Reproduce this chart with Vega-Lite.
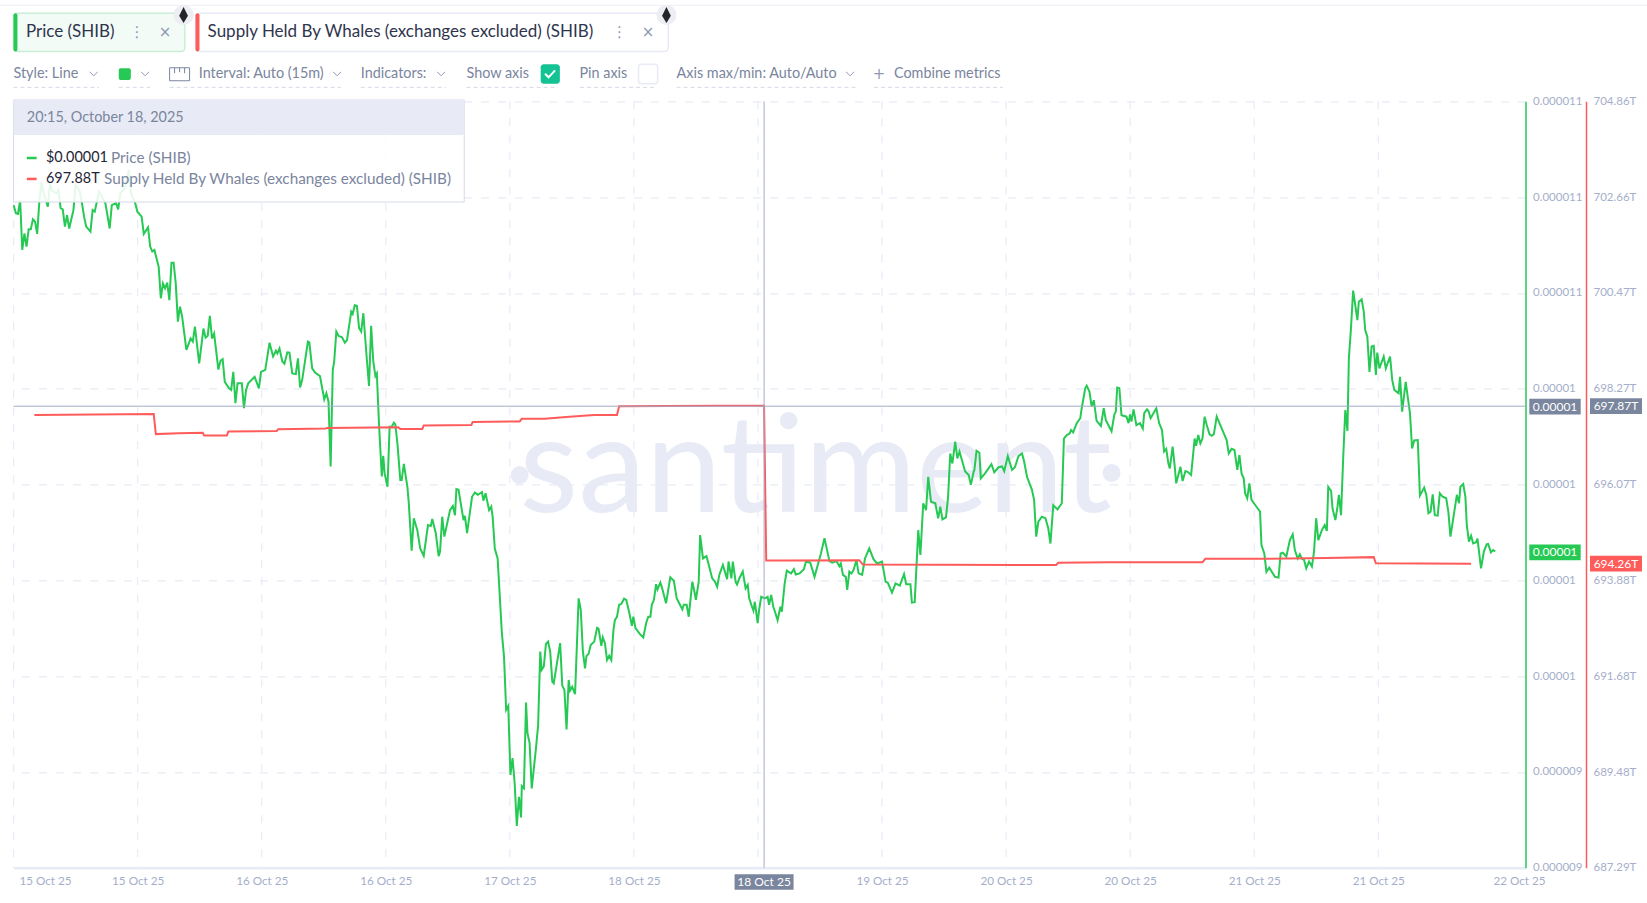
{
"$schema":"https://vega.github.io/schema/vega-lite/v6.json",
"autosize":{"type":"none"},
"width":1511.9,"height":766.4,
"padding":{"left":13.6,"top":101.3,"right":121.5,"bottom":35.3},
"background":"#ffffff",
"config":{"view":{"stroke":null},"font":"Lato","text":{"font":"Lato"}},
"datasets":{
"price":[
{"time":"2025-10-15T04:15","price":0.000010779},{"time":"2025-10-15T04:30","price":0.000010758},{"time":"2025-10-15T04:45","price":0.000010756},{"time":"2025-10-15T05:00","price":0.000010792},{"time":"2025-10-15T05:15","price":0.000010662},{"time":"2025-10-15T05:30","price":0.000010705},{"time":"2025-10-15T05:45","price":0.000010671},{"time":"2025-10-15T06:00","price":0.000010716},{"time":"2025-10-15T06:15","price":0.000010716},{"time":"2025-10-15T06:30","price":0.000010742},{"time":"2025-10-15T06:45","price":0.000010736},{"time":"2025-10-15T07:00","price":0.000010704},{"time":"2025-10-15T07:15","price":0.000010788},{"time":"2025-10-15T07:30","price":0.00001084},{"time":"2025-10-15T07:45","price":0.00001081},{"time":"2025-10-15T08:15","price":0.000010775},{"time":"2025-10-15T08:30","price":0.000010836},{"time":"2025-10-15T08:45","price":0.000010817},{"time":"2025-10-15T09:15","price":0.00001081},{"time":"2025-10-15T09:30","price":0.000010818},{"time":"2025-10-15T09:45","price":0.000010771},{"time":"2025-10-15T10:00","price":0.000010768},{"time":"2025-10-15T10:15","price":0.000010723},{"time":"2025-10-15T10:30","price":0.000010753},{"time":"2025-10-15T10:45","price":0.000010718},{"time":"2025-10-15T11:15","price":0.000010766},{"time":"2025-10-15T11:30","price":0.000010832},{"time":"2025-10-15T12:00","price":0.000010814},{"time":"2025-10-15T12:15","price":0.000010784},{"time":"2025-10-15T12:30","price":0.000010749},{"time":"2025-10-15T12:45","price":0.000010723},{"time":"2025-10-15T13:15","price":0.00001071},{"time":"2025-10-15T13:30","price":0.000010766},{"time":"2025-10-15T13:45","price":0.000010762},{"time":"2025-10-15T14:15","price":0.000010814},{"time":"2025-10-15T14:30","price":0.000010805},{"time":"2025-10-15T15:00","price":0.000010784},{"time":"2025-10-15T15:30","price":0.000010718},{"time":"2025-10-15T15:45","price":0.000010779},{"time":"2025-10-15T16:15","price":0.000010784},{"time":"2025-10-15T16:30","price":0.000010768},{"time":"2025-10-15T16:45","price":0.00001081},{"time":"2025-10-15T17:15","price":0.000010823},{"time":"2025-10-15T17:45","price":0.000010871},{"time":"2025-10-15T18:00","price":0.00001081},{"time":"2025-10-15T18:30","price":0.000010784},{"time":"2025-10-15T18:45","price":0.000010762},{"time":"2025-10-15T19:15","price":0.000010749},{"time":"2025-10-15T19:30","price":0.000010704},{"time":"2025-10-15T20:00","price":0.000010721},{"time":"2025-10-15T20:15","price":0.000010671},{"time":"2025-10-15T20:30","price":0.000010658},{"time":"2025-10-15T20:45","price":0.000010662},{"time":"2025-10-15T21:15","price":0.000010618},{"time":"2025-10-15T21:30","price":0.000010536},{"time":"2025-10-15T21:45","price":0.000010575},{"time":"2025-10-15T22:00","price":0.000010562},{"time":"2025-10-15T22:15","price":0.000010577},{"time":"2025-10-15T22:30","price":0.000010531},{"time":"2025-10-15T22:45","price":0.000010629},{"time":"2025-10-15T23:00","price":0.000010629},{"time":"2025-10-15T23:15","price":0.000010575},{"time":"2025-10-15T23:30","price":0.000010475},{"time":"2025-10-15T23:45","price":0.000010514},{"time":"2025-10-16T00:00","price":0.000010488},{"time":"2025-10-16T00:30","price":0.000010401},{"time":"2025-10-16T01:00","price":0.000010431},{"time":"2025-10-16T01:15","price":0.000010423},{"time":"2025-10-16T01:30","price":0.000010462},{"time":"2025-10-16T02:00","price":0.000010366},{"time":"2025-10-16T02:30","price":0.000010457},{"time":"2025-10-16T02:45","price":0.000010433},{"time":"2025-10-16T03:00","price":0.000010438},{"time":"2025-10-16T03:15","price":0.00001049},{"time":"2025-10-16T03:30","price":0.000010431},{"time":"2025-10-16T03:45","price":0.000010444},{"time":"2025-10-16T04:15","price":0.00001035},{"time":"2025-10-16T04:30","price":0.000010373},{"time":"2025-10-16T04:45","price":0.000010377},{"time":"2025-10-16T05:00","price":0.000010318},{"time":"2025-10-16T05:30","price":0.000010301},{"time":"2025-10-16T05:45","price":0.000010297},{"time":"2025-10-16T06:00","price":0.000010344},{"time":"2025-10-16T06:15","price":0.000010262},{"time":"2025-10-16T06:30","price":0.000010314},{"time":"2025-10-16T07:00","price":0.000010314},{"time":"2025-10-16T07:15","price":0.000010249},{"time":"2025-10-16T07:30","price":0.000010297},{"time":"2025-10-16T07:45","price":0.000010314},{"time":"2025-10-16T08:30","price":0.000010331},{"time":"2025-10-16T09:00","price":0.000010301},{"time":"2025-10-16T09:15","price":0.000010344},{"time":"2025-10-16T09:45","price":0.000010349},
{"time":"2025-10-16T10:15","price":0.00001042},{"time":"2025-10-16T10:40","price":0.000010384},{"time":"2025-10-16T11:00","price":0.000010399},{"time":"2025-10-16T11:10","price":0.000010392},{"time":"2025-10-16T11:25","price":0.000010405},{"time":"2025-10-16T11:45","price":0.000010371},{"time":"2025-10-16T12:00","price":0.000010365},{"time":"2025-10-16T12:20","price":0.000010395},{"time":"2025-10-16T12:35","price":0.000010394},{"time":"2025-10-16T12:55","price":0.00001034},{"time":"2025-10-16T13:20","price":0.000010338},{"time":"2025-10-16T13:35","price":0.000010379},{"time":"2025-10-16T13:50","price":0.000010303},{"time":"2025-10-16T14:05","price":0.000010323},{"time":"2025-10-16T14:45","price":0.000010423},{"time":"2025-10-16T14:55","price":0.000010421},{"time":"2025-10-16T15:15","price":0.000010353},{"time":"2025-10-16T15:35","price":0.000010342},{"time":"2025-10-16T16:10","price":0.000010333},{"time":"2025-10-16T16:40","price":0.000010272},{"time":"2025-10-16T16:55","price":0.000010288},{"time":"2025-10-16T17:10","price":0.000010266},{"time":"2025-10-16T17:25","price":0.000010097},{"time":"2025-10-16T17:40","price":0.000010349},{"time":"2025-10-16T17:50","price":0.000010371},{"time":"2025-10-16T18:05","price":0.000010449},{"time":"2025-10-16T18:20","price":0.000010438},{"time":"2025-10-16T18:45","price":0.000010434},{"time":"2025-10-16T19:05","price":0.00001042},{"time":"2025-10-16T19:20","price":0.000010427},{"time":"2025-10-16T19:50","price":0.000010501},{"time":"2025-10-16T20:00","price":0.000010495},{"time":"2025-10-16T20:15","price":0.000010518},{"time":"2025-10-16T20:30","price":0.000010516},{"time":"2025-10-16T20:45","price":0.000010458},{"time":"2025-10-16T21:00","price":0.000010449},{"time":"2025-10-16T21:15","price":0.000010497},{"time":"2025-10-16T21:40","price":0.000010375},{"time":"2025-10-16T21:55","price":0.000010307},{"time":"2025-10-16T22:10","price":0.000010464},{"time":"2025-10-16T22:25","price":0.000010371},{"time":"2025-10-16T22:40","price":0.000010333},{"time":"2025-10-16T22:50","price":0.00001034},{"time":"2025-10-16T23:05","price":0.00001021},{"time":"2025-10-16T23:25","price":0.000010071},{"time":"2025-10-16T23:35","price":0.000010125},{"time":"2025-10-16T23:45","price":0.000010079},{"time":"2025-10-17T00:05","price":0.000010044},{"time":"2025-10-17T00:20","price":0.000010201},{"time":"2025-10-17T00:35","price":0.000010201},{"time":"2025-10-17T00:50","price":0.000010211},{"time":"2025-10-17T01:00","price":0.000010207},{"time":"2025-10-17T01:15","price":0.000010157},{"time":"2025-10-17T01:35","price":0.000010062},{"time":"2025-10-17T01:45","price":0.000010062},{"time":"2025-10-17T02:00","price":0.000010104},{"time":"2025-10-17T02:25","price":0.000010044},{"time":"2025-10-17T02:35","price":0.000010001},{"time":"2025-10-17T02:55","price":0.000009877},{"time":"2025-10-17T03:10","price":0.000009962},{"time":"2025-10-17T03:35","price":0.000009931},{"time":"2025-10-17T03:55","price":0.000009883},{"time":"2025-10-17T04:20","price":0.000009864},{"time":"2025-10-17T04:50","price":0.000009944},{"time":"2025-10-17T05:10","price":0.000009942},{"time":"2025-10-17T05:20","price":0.00000996},{"time":"2025-10-17T05:45","price":0.000009923},{"time":"2025-10-17T06:05","price":0.000009863},{"time":"2025-10-17T06:15","price":0.000009875},{"time":"2025-10-17T06:30","price":0.000009966},{"time":"2025-10-17T06:45","price":0.000009914},{"time":"2025-10-17T07:25","price":0.000009983},{"time":"2025-10-17T07:45","price":0.000009994},{"time":"2025-10-17T08:00","price":0.00000997},{"time":"2025-10-17T08:10","price":0.000010038},{"time":"2025-10-17T08:25","price":0.000010036},{"time":"2025-10-17T09:00","price":0.000009957},{"time":"2025-10-17T09:10","price":0.000009968},{"time":"2025-10-17T09:25","price":0.000009923},{"time":"2025-10-17T10:00","price":0.000010018},{"time":"2025-10-17T10:20","price":0.000010029},{"time":"2025-10-17T10:40","price":0.000010023},{"time":"2025-10-17T11:10","price":0.00001003},{"time":"2025-10-17T11:20","price":0.000010008},{"time":"2025-10-17T11:35","price":0.000010027},{"time":"2025-10-17T12:00","price":0.000009983},{"time":"2025-10-17T12:15","price":0.000009992},{"time":"2025-10-17T12:25","price":0.000009966},{"time":"2025-10-17T12:40","price":0.000009883},
{"time":"2025-10-17T13:00","price":0.000009857},{"time":"2025-10-17T13:30","price":0.000009662},{"time":"2025-10-17T13:45","price":0.000009601},{"time":"2025-10-17T14:00","price":0.000009462},{"time":"2025-10-17T14:15","price":0.000009472},{"time":"2025-10-17T14:30","price":0.000009292},{"time":"2025-10-17T14:45","price":0.000009336},{"time":"2025-10-17T15:00","price":0.00000927},{"time":"2025-10-17T15:15","price":0.000009159},{"time":"2025-10-17T15:30","price":0.000009235},{"time":"2025-10-17T15:45","price":0.000009181},{"time":"2025-10-17T15:50","price":0.000009263},{"time":"2025-10-17T16:05","price":0.000009257},{"time":"2025-10-17T16:20","price":0.000009481},{"time":"2025-10-17T16:30","price":0.000009401},{"time":"2025-10-17T16:45","price":0.000009375},{"time":"2025-10-17T17:00","price":0.000009257},{"time":"2025-10-17T17:30","price":0.000009362},{"time":"2025-10-17T17:45","price":0.000009422},{"time":"2025-10-17T18:00","price":0.000009614},{"time":"2025-10-17T18:10","price":0.000009566},{"time":"2025-10-17T18:25","price":0.000009575},{"time":"2025-10-17T18:40","price":0.000009634},{"time":"2025-10-17T18:55","price":0.00000964},{"time":"2025-10-17T19:10","price":0.000009614},{"time":"2025-10-17T19:25","price":0.000009535},{"time":"2025-10-17T19:35","price":0.000009531},{"time":"2025-10-17T20:20","price":0.000009636},{"time":"2025-10-17T20:35","price":0.000009525},{"time":"2025-10-17T20:50","price":0.000009514},{"time":"2025-10-17T21:05","price":0.000009411},{"time":"2025-10-17T21:20","price":0.00000954},{"time":"2025-10-17T21:30","price":0.000009512},{"time":"2025-10-17T21:45","price":0.000009522},{"time":"2025-10-17T22:05","price":0.000009503},{"time":"2025-10-17T22:30","price":0.000009753},{"time":"2025-10-17T22:45","price":0.000009723},{"time":"2025-10-17T23:00","price":0.000009614},{"time":"2025-10-17T23:15","price":0.00000957},{"time":"2025-10-17T23:25","price":0.000009602},{"time":"2025-10-17T23:40","price":0.000009608},{"time":"2025-10-17T23:55","price":0.000009631},{"time":"2025-10-18T00:20","price":0.00000964},{"time":"2025-10-18T00:40","price":0.000009676},{"time":"2025-10-18T00:50","price":0.000009674},{"time":"2025-10-18T01:10","price":0.000009629},{"time":"2025-10-18T01:20","price":0.000009651},{"time":"2025-10-18T01:35","price":0.000009636},{"time":"2025-10-18T01:50","price":0.000009592},{"time":"2025-10-18T02:05","price":0.000009603},{"time":"2025-10-18T02:20","price":0.000009592},{"time":"2025-10-18T02:35","price":0.00000967},{"time":"2025-10-18T02:45","price":0.000009696},{"time":"2025-10-18T03:00","price":0.000009705},{"time":"2025-10-18T03:15","price":0.000009736},{"time":"2025-10-18T03:30","price":0.000009738},{"time":"2025-10-18T03:50","price":0.000009752},{"time":"2025-10-18T04:05","price":0.000009749},{"time":"2025-10-18T04:25","price":0.000009718},{"time":"2025-10-18T04:45","price":0.000009681},{"time":"2025-10-18T04:55","price":0.000009705},{"time":"2025-10-18T05:10","price":0.000009675},{"time":"2025-10-18T05:40","price":0.00000966},{"time":"2025-10-18T06:05","price":0.000009651},{"time":"2025-10-18T06:25","price":0.000009688},{"time":"2025-10-18T06:40","price":0.000009705},{"time":"2025-10-18T06:55","price":0.000009705},{"time":"2025-10-18T07:05","price":0.000009736},{"time":"2025-10-18T07:20","price":0.000009749},{"time":"2025-10-18T07:35","price":0.00000979},{"time":"2025-10-18T07:45","price":0.000009776},{"time":"2025-10-18T08:05","price":0.000009794},{"time":"2025-10-18T08:15","price":0.000009783},{"time":"2025-10-18T08:45","price":0.00000974},{"time":"2025-10-18T09:15","price":0.000009808},{"time":"2025-10-18T09:40","price":0.000009799},{"time":"2025-10-18T10:00","price":0.000009753},{"time":"2025-10-18T10:15","price":0.000009742},{"time":"2025-10-18T10:40","price":0.000009724},{"time":"2025-10-18T10:50","price":0.000009736},{"time":"2025-10-18T11:10","price":0.000009736},{"time":"2025-10-18T11:25","price":0.000009705},{"time":"2025-10-18T11:50","price":0.000009796},{"time":"2025-10-18T12:05","price":0.00000977},{"time":"2025-10-18T12:15","price":0.000009749},{"time":"2025-10-18T12:35","price":0.000009796},{"time":"2025-10-18T12:45","price":0.000009918},{"time":"2025-10-18T13:05","price":0.000009857},{"time":"2025-10-18T13:30","price":0.000009863},{"time":"2025-10-18T13:55","price":0.000009827},{"time":"2025-10-18T14:10","price":0.000009805},{"time":"2025-10-18T14:30","price":0.000009796},{"time":"2025-10-18T14:45","price":0.000009783},{"time":"2025-10-18T15:00","price":0.000009814},{"time":"2025-10-18T15:25","price":0.00000984},{"time":"2025-10-18T15:55","price":0.000009803},{"time":"2025-10-18T16:05","price":0.000009849},{"time":"2025-10-18T16:25","price":0.000009805},{"time":"2025-10-18T16:35","price":0.000009849},{"time":"2025-10-18T16:55","price":0.000009796},{"time":"2025-10-18T17:05","price":0.000009789},{"time":"2025-10-18T17:20","price":0.000009804},{"time":"2025-10-18T17:45","price":0.000009823},{"time":"2025-10-18T18:05","price":0.000009779},{"time":"2025-10-18T18:20","price":0.000009788},{"time":"2025-10-18T18:30","price":0.000009753},{"time":"2025-10-18T18:50","price":0.000009731},{"time":"2025-10-18T19:00","price":0.000009721},{"time":"2025-10-18T19:10","price":0.000009744},{"time":"2025-10-18T19:30","price":0.000009688},{"time":"2025-10-18T19:40","price":0.000009723},
{"time":"2025-10-18T19:55","price":0.000009757},{"time":"2025-10-18T20:20","price":0.000009753},{"time":"2025-10-18T20:40","price":0.000009757},{"time":"2025-10-18T20:50","price":0.000009736},{"time":"2025-10-18T21:05","price":0.000009762},{"time":"2025-10-18T21:20","price":0.000009731},{"time":"2025-10-18T21:35","price":0.000009714},{"time":"2025-10-18T21:50","price":0.000009696},{"time":"2025-10-18T22:10","price":0.000009731},{"time":"2025-10-18T22:20","price":0.000009718},{"time":"2025-10-18T22:40","price":0.000009792},{"time":"2025-10-18T22:55","price":0.000009825},{"time":"2025-10-18T23:25","price":0.000009818},{"time":"2025-10-18T23:45","price":0.000009829},{"time":"2025-10-18T23:58","price":0.000009815},{"time":"2025-10-19T00:25","price":0.000009818},{"time":"2025-10-19T00:55","price":0.000009829},{"time":"2025-10-19T01:10","price":0.000009849},{"time":"2025-10-19T01:40","price":0.000009846},{"time":"2025-10-19T02:10","price":0.000009809},{"time":"2025-10-19T02:55","price":0.00000987},{"time":"2025-10-19T03:20","price":0.00000991},{"time":"2025-10-19T03:55","price":0.00000985},{"time":"2025-10-19T04:15","price":0.000009846},{"time":"2025-10-19T04:45","price":0.00000985},{"time":"2025-10-19T05:05","price":0.000009837},{"time":"2025-10-19T05:15","price":0.000009844},{"time":"2025-10-19T05:30","price":0.000009814},{"time":"2025-10-19T05:50","price":0.000009809},{"time":"2025-10-19T06:00","price":0.000009775},{"time":"2025-10-19T06:15","price":0.000009823},{"time":"2025-10-19T06:30","price":0.000009818},{"time":"2025-10-19T06:45","price":0.000009827},{"time":"2025-10-19T07:05","price":0.000009853},{"time":"2025-10-19T07:20","price":0.000009818},{"time":"2025-10-19T07:45","price":0.000009814},{"time":"2025-10-19T08:05","price":0.000009857},{"time":"2025-10-19T08:35","price":0.000009883},{"time":"2025-10-19T09:05","price":0.000009855},{"time":"2025-10-19T09:30","price":0.000009844},{"time":"2025-10-19T10:05","price":0.000009849},{"time":"2025-10-19T10:30","price":0.000009796},{"time":"2025-10-19T10:45","price":0.000009794},{"time":"2025-10-19T11:15","price":0.000009768},{"time":"2025-10-19T11:40","price":0.000009792},{"time":"2025-10-19T12:10","price":0.000009786},{"time":"2025-10-19T12:40","price":0.000009816},{"time":"2025-10-19T12:55","price":0.00000979},{"time":"2025-10-19T13:25","price":0.00000979},{"time":"2025-10-19T13:35","price":0.000009742},{"time":"2025-10-19T13:55","price":0.000009743},{"time":"2025-10-19T14:20","price":0.000009931},{"time":"2025-10-19T14:35","price":0.000009866},{"time":"2025-10-19T14:55","price":0.000010001},{"time":"2025-10-19T15:15","price":0.000009983},{"time":"2025-10-19T15:30","price":0.00001007},{"time":"2025-10-19T15:50","price":0.000010005},{"time":"2025-10-19T16:20","price":0.000010001},{"time":"2025-10-19T16:40","price":0.000009962},{"time":"2025-10-19T16:55","price":0.000009992},{"time":"2025-10-19T17:10","price":0.000009959},{"time":"2025-10-19T17:35","price":0.000009964},{"time":"2025-10-19T17:50","price":0.000010018},{"time":"2025-10-19T18:05","price":0.000010131},{"time":"2025-10-19T18:20","price":0.000010105},{"time":"2025-10-19T18:40","price":0.000010162},{"time":"2025-10-19T18:55","price":0.000010118},{"time":"2025-10-19T19:10","price":0.000010136},{"time":"2025-10-19T19:50","price":0.000010084},{"time":"2025-10-19T20:15","price":0.000010075},{"time":"2025-10-19T20:30","price":0.000010049},{"time":"2025-10-19T20:50","price":0.000010084},{"time":"2025-10-19T20:55","price":0.000010088},{"time":"2025-10-19T21:10","price":0.000010138},{"time":"2025-10-19T21:30","price":0.000010133},{"time":"2025-10-19T21:40","price":0.000010066},{"time":"2025-10-19T22:10","price":0.000010079},{"time":"2025-10-19T22:55","price":0.000010103},{"time":"2025-10-19T23:15","price":0.000010082},{"time":"2025-10-19T23:45","price":0.000010095},{"time":"2025-10-20T00:10","price":0.000010097},{"time":"2025-10-20T00:25","price":0.000010085},{"time":"2025-10-20T00:50","price":0.000010124},{"time":"2025-10-20T01:20","price":0.000010088},{"time":"2025-10-20T01:40","price":0.000010095},{"time":"2025-10-20T02:05","price":0.000010124},{"time":"2025-10-20T02:30","price":0.000010131},{"time":"2025-10-20T02:45","price":0.00001011},{"time":"2025-10-20T03:05","price":0.00001007},{"time":"2025-10-20T03:40","price":0.000010036},
{"time":"2025-10-20T03:55","price":0.00001001},{"time":"2025-10-20T04:10","price":0.000009914},{"time":"2025-10-20T04:25","price":0.000009953},{"time":"2025-10-20T04:50","price":0.000009966},{"time":"2025-10-20T05:15","price":0.000009962},{"time":"2025-10-20T05:35","price":0.000009935},{"time":"2025-10-20T05:50","price":0.000009896},{"time":"2025-10-20T06:10","price":0.000009996},{"time":"2025-10-20T06:40","price":0.000009985},{"time":"2025-10-20T07:10","price":0.000010001},{"time":"2025-10-20T07:25","price":0.00001017},{"time":"2025-10-20T07:45","price":0.000010179},{"time":"2025-10-20T08:05","price":0.000010183},{"time":"2025-10-20T08:15","price":0.000010192},{"time":"2025-10-20T08:30","price":0.000010186},{"time":"2025-10-20T08:55","price":0.00001021},{"time":"2025-10-20T09:20","price":0.000010223},{"time":"2025-10-20T09:30","price":0.000010249},{"time":"2025-10-20T09:55","price":0.000010301},{"time":"2025-10-20T10:05","price":0.000010308},{"time":"2025-10-20T10:25","price":0.000010292},{"time":"2025-10-20T10:40","price":0.000010253},{"time":"2025-10-20T10:55","price":0.00001027},{"time":"2025-10-20T11:15","price":0.000010216},{"time":"2025-10-20T11:45","price":0.000010203},{"time":"2025-10-20T12:05","price":0.000010249},{"time":"2025-10-20T12:20","price":0.000010218},{"time":"2025-10-20T13:00","price":0.000010189},{"time":"2025-10-20T13:20","price":0.000010233},{"time":"2025-10-20T13:30","price":0.00001024},{"time":"2025-10-20T13:40","price":0.000010303},{"time":"2025-10-20T13:55","price":0.000010301},{"time":"2025-10-20T14:10","price":0.000010231},{"time":"2025-10-20T14:45","price":0.000010227},{"time":"2025-10-20T15:00","price":0.00001021},{"time":"2025-10-20T15:10","price":0.000010233},{"time":"2025-10-20T15:20","price":0.000010214},{"time":"2025-10-20T15:35","price":0.000010246},{"time":"2025-10-20T15:55","price":0.000010205},{"time":"2025-10-20T16:20","price":0.00001021},{"time":"2025-10-20T16:40","price":0.000010196},{"time":"2025-10-20T16:50","price":0.000010236},{"time":"2025-10-20T17:10","price":0.000010246},{"time":"2025-10-20T17:20","price":0.000010242},{"time":"2025-10-20T17:35","price":0.000010223},{"time":"2025-10-20T18:15","price":0.000010249},{"time":"2025-10-20T18:35","price":0.00001021},{"time":"2025-10-20T18:55","price":0.000010192},{"time":"2025-10-20T19:10","price":0.000010136},{"time":"2025-10-20T19:25","price":0.000010143},{"time":"2025-10-20T19:40","price":0.000010105},{"time":"2025-10-20T19:50","price":0.000010092},{"time":"2025-10-20T20:10","price":0.000010149},{"time":"2025-10-20T20:25","price":0.000010096},{"time":"2025-10-20T20:35","price":0.000010053},{"time":"2025-10-20T21:05","price":0.000010096},{"time":"2025-10-20T21:20","price":0.000010059},{"time":"2025-10-20T21:40","price":0.000010085},{"time":"2025-10-20T21:55","price":0.000010083},{"time":"2025-10-20T22:20","price":0.000010075},{"time":"2025-10-20T22:45","price":0.00001017},{"time":"2025-10-20T22:55","price":0.000010151},{"time":"2025-10-20T23:10","price":0.000010179},{"time":"2025-10-20T23:25","price":0.000010157},{"time":"2025-10-20T23:40","price":0.00001017},{"time":"2025-10-20T23:55","price":0.000010227},{"time":"2025-10-21T00:10","price":0.000010205},{"time":"2025-10-21T00:30","price":0.000010181},{"time":"2025-10-21T00:45","price":0.000010177},{"time":"2025-10-21T01:00","price":0.000010181},{"time":"2025-10-21T01:20","price":0.000010227},{"time":"2025-10-21T01:50","price":0.000010201},{"time":"2025-10-21T02:30","price":0.000010166},{"time":"2025-10-21T02:45","price":0.000010131},{"time":"2025-10-21T03:05","price":0.000010143},{"time":"2025-10-21T03:25","price":0.00001014},{"time":"2025-10-21T03:45","price":0.000010088},{"time":"2025-10-21T04:00","price":0.000010127},{"time":"2025-10-21T04:15","price":0.000010079},{"time":"2025-10-21T04:30","price":0.000010066},{"time":"2025-10-21T04:40","price":0.000010027},{"time":"2025-10-21T04:55","price":0.000010014},{"time":"2025-10-21T05:10","price":0.000010053},{"time":"2025-10-21T05:25","price":0.00001001},{"time":"2025-10-21T06:00","price":0.000009992},{"time":"2025-10-21T06:25","price":0.000009979},{"time":"2025-10-21T06:35","price":0.000009892},{"time":"2025-10-21T06:55","price":0.00000987},{"time":"2025-10-21T07:10","price":0.000009822},{"time":"2025-10-21T07:30","price":0.000009833},{"time":"2025-10-21T08:10","price":0.000009809},{"time":"2025-10-21T08:35","price":0.000009807},{"time":"2025-10-21T08:50","price":0.00000987},{"time":"2025-10-21T09:05","price":0.000009872},{"time":"2025-10-21T09:30","price":0.000009862},{"time":"2025-10-21T09:55","price":0.000009905},
{"time":"2025-10-21T10:15","price":0.00000992},{"time":"2025-10-21T10:30","price":0.000009879},{"time":"2025-10-21T10:50","price":0.000009857},{"time":"2025-10-21T11:05","price":0.000009868},{"time":"2025-10-21T11:20","price":0.000009856},{"time":"2025-10-21T11:35","price":0.000009853},{"time":"2025-10-21T11:50","price":0.000009831},{"time":"2025-10-21T12:10","price":0.000009849},{"time":"2025-10-21T12:30","price":0.000009836},{"time":"2025-10-21T12:45","price":0.000009875},{"time":"2025-10-21T13:00","price":0.000009962},{"time":"2025-10-21T13:15","price":0.000009905},{"time":"2025-10-21T13:40","price":0.000009931},{"time":"2025-10-21T14:00","price":0.000009944},{"time":"2025-10-21T14:15","price":0.000009929},{"time":"2025-10-21T14:25","price":0.000010044},{"time":"2025-10-21T14:45","price":0.000010033},{"time":"2025-10-21T14:55","price":0.000009988},{"time":"2025-10-21T15:15","price":0.000009957},{"time":"2025-10-21T15:30","price":0.000009992},{"time":"2025-10-21T15:40","price":0.000010023},{"time":"2025-10-21T15:55","price":0.00000997},{"time":"2025-10-21T16:10","price":0.000010118},{"time":"2025-10-21T16:25","price":0.000010244},{"time":"2025-10-21T16:40","price":0.00001019},{"time":"2025-10-21T16:50","price":0.000010379},{"time":"2025-10-21T17:05","price":0.000010458},{"time":"2025-10-21T17:20","price":0.000010556},{"time":"2025-10-21T17:35","price":0.000010518},{"time":"2025-10-21T17:50","price":0.000010479},{"time":"2025-10-21T18:00","price":0.000010527},{"time":"2025-10-21T18:20","price":0.000010533},{"time":"2025-10-21T18:35","price":0.000010501},{"time":"2025-10-21T18:45","price":0.000010453},{"time":"2025-10-21T19:00","price":0.000010436},{"time":"2025-10-21T19:15","price":0.000010344},{"time":"2025-10-21T19:30","price":0.00001041},{"time":"2025-10-21T19:45","price":0.000010412},{"time":"2025-10-21T20:00","price":0.000010336},{"time":"2025-10-21T20:10","price":0.000010394},{"time":"2025-10-21T20:25","price":0.000010353},{"time":"2025-10-21T20:55","price":0.000010384},{"time":"2025-10-21T21:10","price":0.000010353},{"time":"2025-10-21T21:40","price":0.000010384},{"time":"2025-10-21T21:55","price":0.000010323},{"time":"2025-10-21T22:10","price":0.000010297},{"time":"2025-10-21T22:40","price":0.000010288},{"time":"2025-10-21T22:50","price":0.000010331},{"time":"2025-10-21T23:05","price":0.00001024},{"time":"2025-10-21T23:30","price":0.000010318},{"time":"2025-10-22T00:00","price":0.000010236},{"time":"2025-10-22T00:15","price":0.000010144},{"time":"2025-10-22T00:30","price":0.000010165},{"time":"2025-10-22T00:55","price":0.000010166},{"time":"2025-10-22T01:10","price":0.000010021},{"time":"2025-10-22T01:40","price":0.000010042},{"time":"2025-10-22T01:55","price":0.000010023},{"time":"2025-10-22T02:10","price":0.000009975},{"time":"2025-10-22T02:25","price":0.000009979},{"time":"2025-10-22T02:40","price":0.000010024},{"time":"2025-10-22T02:55","price":0.00000997},{"time":"2025-10-22T03:15","price":0.000009969},{"time":"2025-10-22T03:30","price":0.000010027},{"time":"2025-10-22T03:50","price":0.000010018},{"time":"2025-10-22T04:15","price":0.000010014},{"time":"2025-10-22T04:30","price":0.000009979},{"time":"2025-10-22T04:45","price":0.000009914},{"time":"2025-10-22T05:30","price":0.000010023},{"time":"2025-10-22T05:45","price":0.000010001},{"time":"2025-10-22T05:55","price":0.000010044},{"time":"2025-10-22T06:15","price":0.000010051},{"time":"2025-10-22T06:30","price":0.000010018},{"time":"2025-10-22T06:40","price":0.000009944},{"time":"2025-10-22T06:55","price":0.000009901},{"time":"2025-10-22T07:10","price":0.000009916},{"time":"2025-10-22T07:25","price":0.000009896},{"time":"2025-10-22T07:45","price":0.000009899},{"time":"2025-10-22T07:55","price":0.000009909},{"time":"2025-10-22T08:20","price":0.000009831},{"time":"2025-10-22T08:40","price":0.000009875},{"time":"2025-10-22T09:00","price":0.000009894},{"time":"2025-10-22T09:10","price":0.000009895},{"time":"2025-10-22T09:30","price":0.000009873},{"time":"2025-10-22T09:45","price":0.000009879},{"time":"2025-10-22T10:00","price":0.000009875}
],
"supply":[
{"time":"2025-10-15T06:40","supply":697.67},{"time":"2025-10-15T20:40","supply":697.69},{"time":"2025-10-15T20:55","supply":697.23},{"time":"2025-10-15T23:35","supply":697.25},{"time":"2025-10-16T02:25","supply":697.26},{"time":"2025-10-16T02:35","supply":697.2},{"time":"2025-10-16T05:15","supply":697.2},{"time":"2025-10-16T05:25","supply":697.29},{"time":"2025-10-16T11:05","supply":697.3},{"time":"2025-10-16T11:15","supply":697.34},{"time":"2025-10-16T16:50","supply":697.36},{"time":"2025-10-16T17:00","supply":697.37},{"time":"2025-10-17T01:20","supply":697.39},{"time":"2025-10-17T01:35","supply":697.35},{"time":"2025-10-17T04:10","supply":697.35},{"time":"2025-10-17T04:20","supply":697.43},{"time":"2025-10-17T09:55","supply":697.44},{"time":"2025-10-17T10:05","supply":697.51},{"time":"2025-10-17T15:35","supply":697.52},{"time":"2025-10-17T15:50","supply":697.58},{"time":"2025-10-17T18:30","supply":697.58},{"time":"2025-10-17T21:25","supply":697.63},{"time":"2025-10-18T00:20","supply":697.67},{"time":"2025-10-18T03:00","supply":697.67},{"time":"2025-10-18T03:15","supply":697.87},{"time":"2025-10-18T14:25","supply":697.88},{"time":"2025-10-18T20:15","supply":697.88},{"time":"2025-10-18T20:30","supply":694.33},{"time":"2025-10-18T23:10","supply":694.33},{"time":"2025-10-19T07:25","supply":694.34},{"time":"2025-10-19T07:50","supply":694.24},{"time":"2025-10-20T04:05","supply":694.23},{"time":"2025-10-20T06:30","supply":694.23},{"time":"2025-10-20T06:45","supply":694.28},{"time":"2025-10-20T12:35","supply":694.29},{"time":"2025-10-20T23:40","supply":694.29},{"time":"2025-10-21T00:00","supply":694.37},{"time":"2025-10-21T07:05","supply":694.37},{"time":"2025-10-21T14:15","supply":694.39},{"time":"2025-10-21T19:45","supply":694.41},{"time":"2025-10-21T20:00","supply":694.27},{"time":"2025-10-22T07:10","supply":694.26}
],
"gridTimes":[
{"time":"2025-10-15T04:14"},{"time":"2025-10-15T18:47"},{"time":"2025-10-16T09:20"},{"time":"2025-10-16T23:53"},{"time":"2025-10-17T14:26"},{"time":"2025-10-18T04:59"},{"time":"2025-10-18T19:32"},{"time":"2025-10-19T10:05"},{"time":"2025-10-20T00:38"},{"time":"2025-10-20T15:11"},{"time":"2025-10-21T05:44"},{"time":"2025-10-21T20:17"}
]
},
"resolve":{"scale":{"y":"independent"},"axis":{"y":"independent"}},
"layer":[
{
"encoding":{"y":{"field":"level","type":"quantitative","axis":null,"scale":{"domain":[687.29,704.86],"nice":false,"zero":false}}},
"layer":[
{"data":{"values":[{"time":"2025-10-19T02:17","level":695.45,"label":"santiment"}]},
 "mark":{"type":"text","font":"Lato","fontSize":136,"color":"#e8ebf5","baseline":"alphabetic","align":"center"},
 "encoding":{"x":{"field":"time","type":"temporal","title":null,"scale":{"domain":["2025-10-15T04:14","2025-10-22T13:33"]}},"text":{"field":"label"}}},
{"data":{"values":[{"time":"2025-10-17T15:35","level":696.29},{"time":"2025-10-20T13:00","level":696.34}]},
 "mark":{"type":"point","shape":"circle","filled":true,"size":324,"color":"#e8ebf5","opacity":1},
 "encoding":{"x":{"field":"time","type":"temporal"}}},
{"data":{"name":"gridTimes"},
 "mark":{"type":"rule","color":"#e9ebf6","strokeWidth":1.2,"strokeDash":[8,9]},
 "encoding":{"y":null,"x":{"field":"time","type":"temporal","axis":{"title":null,"values":["2025-10-15T07:55","2025-10-15T18:47","2025-10-16T09:20","2025-10-16T23:53","2025-10-17T14:26","2025-10-18T04:59","2025-10-19T10:05","2025-10-20T00:38","2025-10-20T15:11","2025-10-21T05:44","2025-10-21T20:17","2025-10-22T12:47"],"format":"%-d %b %y","labelFont":"Lato","labelFontSize":11.7,"labelColor":"#a5aecb","labelOverlap":false,"labelFlush":false,"labelPadding":8,"ticks":false,"grid":false,"domainColor":"#e8ebf5","domainWidth":2.5}}}}
]},
{
"encoding":{"y":{"field":"price","type":"quantitative","scale":{"domain":[0.00000905,0.00001105],"nice":false,"zero":false}}},
"layer":[
{"data":{"name":"price"},
 "mark":{"type":"line","color":"#26c953","strokeWidth":2,"interpolate":"linear"},
 "encoding":{"x":{"field":"time","type":"temporal"},"y":{"field":"price","type":"quantitative","axis":{"title":null,"orient":"right","values":[0.00001105,0.0000108,0.00001055,0.0000103,0.00001005,0.0000098,0.00000955,0.0000093,0.00000905],"format":".6~f","labelFont":"Lato","labelFontSize":11.5,"labelColor":"#a5aecb","labelPadding":7,"ticks":false,"domainColor":"#26c953","domainWidth":1.5,"grid":true,"gridColor":"#e9ebf6","gridWidth":1.2,"gridDash":[8,9]}}}},
{"data":{"values":[{"time":"2025-10-22T13:33","price":0.000010253}]},
 "mark":{"type":"rect","color":"#7a859e","width":51.4,"height":15.7,"xOffset":29.5},
 "encoding":{"x":{"field":"time","type":"temporal"}}},
{"data":{"values":[{"time":"2025-10-22T13:33","price":0.000009873}]},
 "mark":{"type":"rect","color":"#26c953","width":51.4,"height":15.7,"xOffset":29.5},
 "encoding":{"x":{"field":"time","type":"temporal"}}},
{"data":{"values":[{"time":"2025-10-22T13:33","price":0.000010253},{"time":"2025-10-22T13:33","price":0.000009873}]},
 "mark":{"type":"text","color":"#ffffff","font":"Lato","fontSize":12,"align":"center","baseline":"middle","dx":29.5},
 "encoding":{"x":{"field":"time","type":"temporal"},"text":{"field":"price","type":"quantitative","format":".6~f"}}}
]},
{"data":{"name":"supply"},
 "mark":{"type":"line","color":"#ff5b5b","strokeWidth":2,"interpolate":"linear"},
 "encoding":{"x":{"field":"time","type":"temporal"},"y":{"field":"supply","type":"quantitative","scale":{"domain":[687.29,704.86],"nice":false,"zero":false},"axis":{"title":null,"orient":"right","offset":60.5,"values":[704.86,702.66,700.47,698.27,696.07,693.88,691.68,689.48,687.29],"labelExpr":"format(datum.value,'.2f')+'T'","labelFont":"Lato","labelFontSize":11.5,"labelColor":"#a5aecb","labelPadding":7,"ticks":false,"domainColor":"#ff5b5b","domainWidth":1.5,"grid":false}}}},
{
"encoding":{"y":{"field":"level","type":"quantitative","axis":null,"scale":{"domain":[687.29,704.86],"nice":false,"zero":false}}},
"layer":[
{"data":{"values":[{"level":697.87}]},
 "mark":{"type":"rule","color":"#a0abc9","strokeWidth":1},"encoding":{}},
{"data":{"values":[{"time":"2025-10-18T20:15"}]},
 "mark":{"type":"rule","color":"#a0abc9","strokeWidth":1},
 "encoding":{"y":null,"x":{"field":"time","type":"temporal"}}},
{"data":{"values":[{"time":"2025-10-18T20:15","level":686.96}]},
 "mark":{"type":"rect","color":"#7a859e","width":59,"height":15.5},
 "encoding":{"x":{"field":"time","type":"temporal"}}},
{"data":{"values":[{"time":"2025-10-18T20:15","level":686.96,"label":"18 Oct 25"}]},
 "mark":{"type":"text","color":"#ffffff","font":"Lato","fontSize":12,"align":"center","baseline":"middle"},
 "encoding":{"x":{"field":"time","type":"temporal"},"text":{"field":"label"}}},
{"data":{"values":[{"time":"2025-10-22T13:33","level":697.87}]},
 "mark":{"type":"rect","color":"#7a859e","width":52,"height":15.7,"xOffset":90.5},
 "encoding":{"x":{"field":"time","type":"temporal"}}},
{"data":{"values":[{"time":"2025-10-22T13:33","level":694.26}]},
 "mark":{"type":"rect","color":"#ff5b5b","width":52,"height":15.7,"xOffset":90.5},
 "encoding":{"x":{"field":"time","type":"temporal"}}},
{"data":{"values":[{"time":"2025-10-22T13:33","level":697.87,"label":"697.87T"},{"time":"2025-10-22T13:33","level":694.26,"label":"694.26T"}]},
 "mark":{"type":"text","color":"#ffffff","font":"Lato","fontSize":12,"align":"center","baseline":"middle","dx":90.5},
 "encoding":{"x":{"field":"time","type":"temporal"},"text":{"field":"label"}}},
{"encoding":{"x":{"field":"time","type":"temporal"},"x2":{"field":"time2"},"y2":{"field":"level2"}},
 "layer":[
 {"data":{"values":[{"time":"2025-10-15T04:13","time2":"2025-10-17T09:05","level":704.89,"level2":702.55}]},"mark":{"type":"rect","fill":"#ffffff","fillOpacity":0.88,"stroke":"#d5daea","strokeWidth":1}},
 {"data":{"values":[{"time":"2025-10-15T04:13","time2":"2025-10-17T09:05","level":704.89,"level2":704.09}]},"mark":{"type":"rect","color":"#e8ebf5"}},
 {"data":{"values":[{"time":"2025-10-15T04:13","time2":"2025-10-16T00:19","level":706.88,"level2":706.0}]},"mark":{"type":"rect","fill":"#f3fbf6","stroke":"#c9eed6","strokeWidth":1.5,"cornerRadius":4}},
 {"data":{"values":[{"time":"2025-10-16T01:34","time2":"2025-10-18T09:01","level":706.88,"level2":706.0}]},"mark":{"type":"rect","fill":"#ffffff","stroke":"#e8ebf5","strokeWidth":1.5,"cornerRadius":4}},
 {"data":{"values":[{"time":"2025-10-15T04:13","time2":"2025-10-15T04:41","level":706.88,"level2":706.0}]},"mark":{"type":"rect","color":"#26c953","cornerRadius":2}},
 {"data":{"values":[{"time":"2025-10-16T01:34","time2":"2025-10-16T02:02","level":706.88,"level2":706.0}]},"mark":{"type":"rect","color":"#ff5b5b","cornerRadius":2}},
 {"data":{"values":[{"time":"2025-10-15T16:34","time2":"2025-10-15T17:59","level":705.62,"level2":705.35}]},"mark":{"type":"rect","color":"#26c953","cornerRadius":2}},
 {"data":{"values":[{"time":"2025-10-17T18:03","time2":"2025-10-17T20:18","level":705.71,"level2":705.26}]},"mark":{"type":"rect","color":"#14c393","cornerRadius":3}},
 {"data":{"values":[{"time":"2025-10-18T05:31","time2":"2025-10-18T07:46","level":705.71,"level2":705.26}]},"mark":{"type":"rect","fill":"#ffffff","stroke":"#e8ebf5","strokeWidth":1.5,"cornerRadius":3}}
 ]},
{"encoding":{"x":{"field":"time","type":"temporal"},"x2":{"field":"time2"}},
 "layer":[
 {"data":{"values":[{"time":"2025-10-15T02:38","time2":"2025-10-23T03:48","level":707.06}]},"mark":{"type":"rule","color":"#eceef5","strokeWidth":1}},
 {"data":{"values":[{"time":"2025-10-15T04:13","time2":"2025-10-15T14:15","level":705.18},{"time":"2025-10-15T16:34","time2":"2025-10-15T20:14","level":705.18},{"time":"2025-10-15T22:32","time2":"2025-10-16T18:38","level":705.18},{"time":"2025-10-16T20:57","time2":"2025-10-17T06:57","level":705.18},{"time":"2025-10-17T09:21","time2":"2025-10-17T20:05","level":705.18},{"time":"2025-10-17T22:40","time2":"2025-10-18T07:42","level":705.18},{"time":"2025-10-18T09:59","time2":"2025-10-19T07:02","level":705.18},{"time":"2025-10-19T09:09","time2":"2025-10-20T00:16","level":705.18}]},"mark":{"type":"rule","color":"#d5d9e6","strokeWidth":1,"strokeDash":[4,3]}},
 {"data":{"values":[{"time":"2025-10-15T05:47","time2":"2025-10-15T06:56","level":703.56}]},"mark":{"type":"rule","color":"#26c953","strokeWidth":2.5}},
 {"data":{"values":[{"time":"2025-10-15T05:47","time2":"2025-10-15T06:56","level":703.08}]},"mark":{"type":"rule","color":"#ff5b5b","strokeWidth":2.5}}
 ]},
{"encoding":{"x":{"field":"time","type":"temporal"},"text":{"field":"label"}},
 "layer":[
 {"data":{"values":[{"time":"2025-10-15T05:41","level":706.45,"label":"Price (SHIB)"},{"time":"2025-10-16T02:59","level":706.45,"label":"Supply Held By Whales (exchanges excluded) (SHIB)"}]},
  "mark":{"type":"text","font":"Lato","fontSize":17,"color":"#2f354d","align":"left","baseline":"middle"}},
 {"data":{"values":[{"time":"2025-10-15T04:13","level":705.49,"label":"Style: Line"},{"time":"2025-10-16T01:57","level":705.49,"label":"Interval: Auto (15m)"},{"time":"2025-10-16T20:57","level":705.49,"label":"Indicators:"},{"time":"2025-10-17T09:21","level":705.49,"label":"Show axis"},{"time":"2025-10-17T22:36","level":705.49,"label":"Pin axis"},{"time":"2025-10-18T09:59","level":705.49,"label":"Axis max/min: Auto/Auto"},{"time":"2025-10-19T11:29","level":705.49,"label":"Combine metrics"},{"time":"2025-10-15T05:47","level":704.48,"label":"20:15, October 18, 2025"}]},
  "mark":{"type":"text","font":"Lato","fontSize":14.4,"color":"#7a859e","align":"left","baseline":"middle"}},
 {"data":{"values":[{"time":"2025-10-15T15:39","level":703.56,"label":"Price (SHIB)"},{"time":"2025-10-15T14:50","level":703.08,"label":"Supply Held By Whales (exchanges excluded) (SHIB)"}]},
  "mark":{"type":"text","font":"Lato","fontSize":15.3,"color":"#7a859e","align":"left","baseline":"middle"}},
 {"data":{"values":[{"time":"2025-10-15T08:02","level":703.56,"label":"$0.00001"},{"time":"2025-10-15T08:02","level":703.08,"label":"697.88T"}]},
  "mark":{"type":"text","font":"Lato","fontSize":14.4,"color":"#1f2536","align":"left","baseline":"middle"}},
 {"data":{"values":[{"time":"2025-10-15T18:42","level":706.45,"label":"⋮"},{"time":"2025-10-18T03:18","level":706.45,"label":"⋮"},{"time":"2025-10-15T21:59","level":706.45,"label":"×"},{"time":"2025-10-18T06:38","level":706.45,"label":"×"},{"time":"2025-10-19T09:44","level":705.49,"label":"+"}]},
  "mark":{"type":"text","font":"DejaVu Sans","fontSize":15,"color":"#8f99b3","align":"center","baseline":"middle"}}
 ]},
{"data":{"values":[{"time":"2025-10-15T13:38","level":705.49},{"time":"2025-10-15T19:39","level":705.49},{"time":"2025-10-16T18:10","level":705.49},{"time":"2025-10-17T06:22","level":705.49},{"time":"2025-10-19T06:20","level":705.49}]},
 "mark":{"type":"point","shape":"M-1,-0.5L0,0.5L1,-0.5","filled":false,"size":64,"stroke":"#8f99b3","strokeWidth":1,"opacity":1},
 "encoding":{"x":{"field":"time","type":"temporal"}}},
{"data":{"values":[{"time":"2025-10-15T23:42","level":705.48}]},
 "mark":{"type":"point","shape":"M-1,-0.65L1,-0.65L1,0.65L-1,0.65ZM-0.5,-0.65L-0.5,-0.1M0,-0.65L0,-0.2M0.5,-0.65L0.5,-0.1","filled":false,"size":400,"stroke":"#7a859e","strokeWidth":1,"opacity":1},
 "encoding":{"x":{"field":"time","type":"temporal"}}},
{"data":{"values":[{"time":"2025-10-17T19:09","level":705.49}]},
 "mark":{"type":"point","shape":"M-1,0L-0.3,0.7L1,-0.7","filled":false,"size":100,"stroke":"#ffffff","strokeWidth":2,"opacity":1},
 "encoding":{"x":{"field":"time","type":"temporal"}}},
{"data":{"values":[{"time":"2025-10-16T00:10","level":706.84},{"time":"2025-10-18T08:48","level":706.84}]},
 "mark":{"type":"point","shape":"circle","filled":true,"size":400,"color":"#eceef3","opacity":1},
 "encoding":{"x":{"field":"time","type":"temporal"}}},
{"data":{"values":[{"time":"2025-10-16T00:10","level":706.84},{"time":"2025-10-18T08:48","level":706.84}]},
 "mark":{"type":"point","shape":"M0,-1L0.55,0.1L0,1L-0.55,0.1Z","filled":true,"size":256,"color":"#23252b","opacity":1},
 "encoding":{"x":{"field":"time","type":"temporal"}}}
]}
]
}
